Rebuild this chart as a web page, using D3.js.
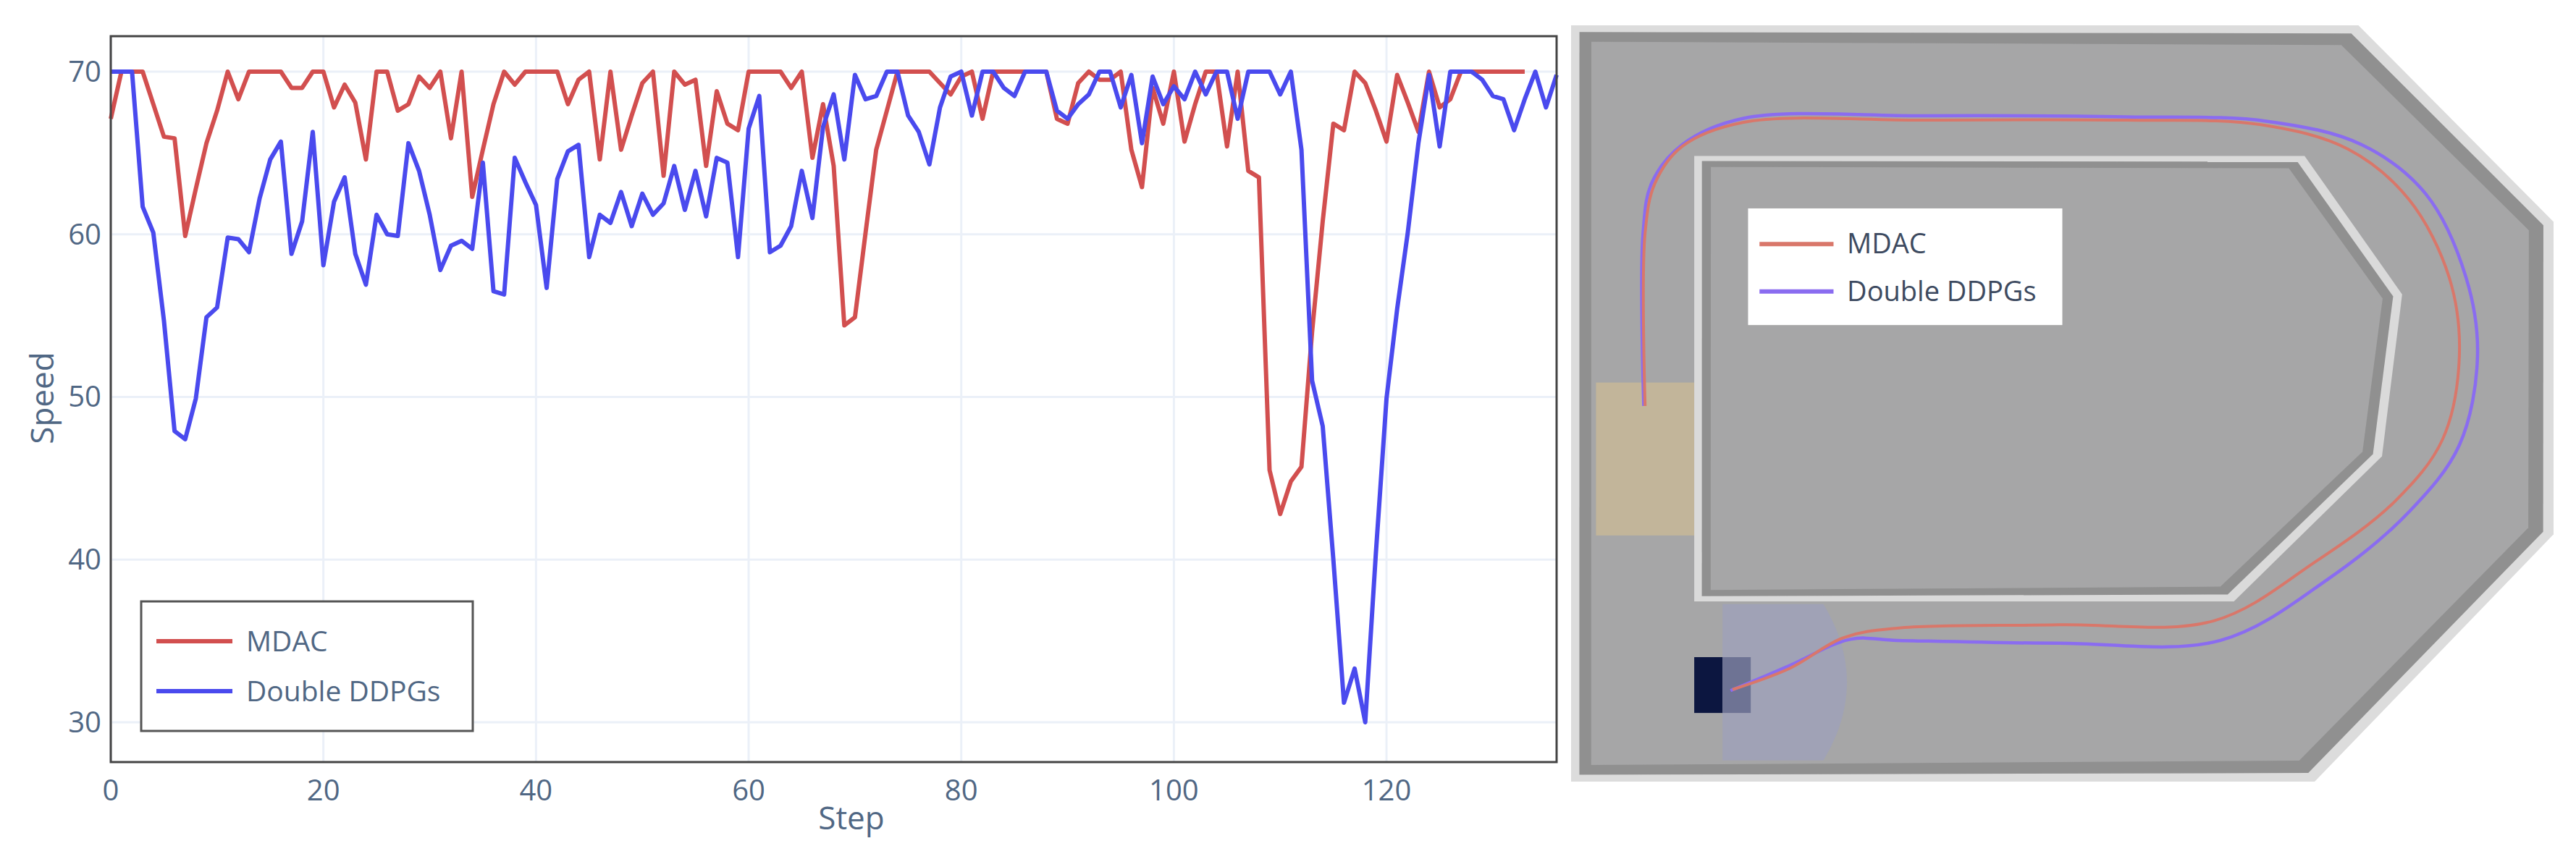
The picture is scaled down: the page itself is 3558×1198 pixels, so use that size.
<!DOCTYPE html>
<html><head><meta charset="utf-8">
<script src="https://cdn.jsdelivr.net/npm/d3@7"></script>
<style>body{margin:0;background:#fff}svg{display:block}text{font-family:"Open Sans",sans-serif}</style>
</head><body><svg id="c" width="3558" height="1198"></svg>
<script>
const seriesNames = ["MDAC", "Double DDPGs"];
const mdac = [67.1,70,70,70,68,66,65.9,59.9,62.8,65.6,67.6,70,68.3,70,70,70,70,69,69,70,70,67.8,69.2,68.1,64.6,70,70,67.6,68,69.7,69,70,65.9,70,62.3,65.2,68,70,69.2,70,70,70,70,68,69.5,70,64.6,70,65.2,67.3,69.3,70,63.6,70,69.2,69.5,64.2,68.8,66.8,66.4,70,70,70,70,69,70,64.7,68,64.2,54.4,54.9,60.1,65.2,67.6,70,70,70,70,69.3,68.6,69.7,70,67.1,70,70,70,70,70,70,67.1,66.8,69.3,70,69.5,69.5,70,65.2,62.9,69,66.8,70,65.7,68,70,70,65.4,70,63.9,63.5,45.5,42.8,44.8,45.7,54,60.8,66.8,66.4,70,69.3,67.6,65.7,69.8,68.1,66.3,70,67.8,68.3,70,70,70,70,70,70,70];
const ddpg = [70,70,70,61.7,60.1,54.7,47.9,47.4,49.9,54.9,55.5,59.8,59.7,58.9,62.2,64.6,65.7,58.8,60.8,66.3,58.1,62,63.5,58.8,56.9,61.2,60,59.9,65.6,63.9,61.2,57.8,59.3,59.6,59.1,64.4,56.5,56.3,64.7,63.2,61.8,56.7,63.4,65.1,65.5,58.6,61.2,60.7,62.6,60.5,62.5,61.2,61.9,64.2,61.5,63.9,61.1,64.7,64.4,58.6,66.5,68.5,58.9,59.3,60.5,63.9,61,66.6,68.6,64.6,69.8,68.3,68.5,70,70,67.3,66.3,64.3,67.8,69.7,70,67.3,70,70,69,68.5,70,70,70,67.6,67.1,68,68.6,70,70,67.8,69.8,65.6,69.7,68,69.1,68.3,70,68.6,70,70,67.1,70,70,70,68.6,70,65.2,51,48.2,40,31.2,33.3,30,40.4,49.9,55.4,60.1,65.6,69.8,65.4,70,70,70,69.5,68.5,68.3,66.4,68.3,70,67.8,69.8];
const yTicks = [30,40,50,60,70];
const xTicks = [0,20,40,60,80,100,120];
const colors = ["#d24f4f", "#4a4aee"];
// track drawing (in track units)
const outerPoly = [[75,48],[1245,48],[1535,400],[1535,960],[1180,1403],[75,1403]];
const islandPoly = [[258,282],[1165,282],[1310,530],[1280,820],[1060,1080],[258,1080]];
const pathMdac = [[185,730],[185,420],[200,330],[240,265],[330,222],[600,218],[900,218],[1100,226],[1230,270],[1320,360],[1380,500],[1395,640],[1370,790],[1300,900],[1180,1010],[1030,1115],[800,1122],[560,1128],[480,1145],[400,1200],[315,1238]];
const pathDdpg = [[183,730],[182,420],[195,330],[240,262],[330,215],[600,210],[900,212],[1110,220],[1250,262],[1345,350],[1405,500],[1422,640],[1395,800],[1320,920],[1200,1040],[1040,1150],[800,1155],[560,1150],[490,1148],[400,1195],[312,1240]];

const svg = d3.select("#c");
const m = {l:153, r:2150, t:50, b:1053};
const x = d3.scaleLinear().domain([0,136]).range([m.l, m.r]);
const y = d3.scaleLinear().domain([27.55,72.18]).range([m.b, m.t]);
const g = svg.append("g");
g.selectAll(".gx").data(xTicks).join("line").attr("x1",d=>x(d)).attr("x2",d=>x(d)).attr("y1",m.t).attr("y2",m.b).attr("stroke","#ebf0f8").attr("stroke-width",3);
g.selectAll(".gy").data(yTicks).join("line").attr("y1",d=>y(d)).attr("y2",d=>y(d)).attr("x1",m.l).attr("x2",m.r).attr("stroke","#ebf0f8").attr("stroke-width",3);
g.selectAll(".tx").data(xTicks).join("text").attr("x",d=>x(d)).attr("y",1106).attr("text-anchor","middle").attr("font-size",40).attr("fill","#506784").text(d=>d);
g.selectAll(".ty").data(yTicks).join("text").attr("x",140).attr("y",d=>y(d)+14).attr("text-anchor","end").attr("font-size",40).attr("fill","#506784").text(d=>d);
svg.append("text").attr("x",1176).attr("y",1146).attr("text-anchor","middle").attr("font-size",44).attr("fill","#506784").text("Step");
svg.append("text").attr("transform","translate(74,550) rotate(-90)").attr("text-anchor","middle").attr("font-size",44).attr("fill","#506784").text("Speed");
const line = d3.line().x((d,i)=>x(i)).y(d=>y(d));
[mdac, ddpg].forEach((s,k)=>{
  svg.append("path").datum(s).attr("d",line).attr("fill","none").attr("stroke",colors[k]).attr("stroke-width",6).attr("stroke-linejoin","round");
});
svg.append("rect").attr("x",m.l).attr("y",m.t).attr("width",m.r-m.l).attr("height",m.b-m.t).attr("fill","none").attr("stroke","#444").attr("stroke-width",3);
const lg = svg.append("g");
lg.append("rect").attr("x",195).attr("y",831).attr("width",458).attr("height",179).attr("fill","#fff").attr("stroke","#555").attr("stroke-width",3);
seriesNames.forEach((n,i)=>{
  const yy = 886 + i*69;
  lg.append("line").attr("x1",216).attr("x2",321).attr("y1",yy).attr("y2",yy).attr("stroke",colors[i]).attr("stroke-width",6);
  lg.append("text").attr("x",340).attr("y",yy+14).attr("font-size",39).attr("fill","#506784").text(n);
});

// right panel: track
const tx = d3.scaleLinear().domain([75,1535]).range([2170,3527]);
const ty = d3.scaleLinear().domain([48,1403]).range([35,1080]);
const toPts = p => p.map(d=>[tx(d[0]),ty(d[1])]);
function inset(poly, k){
  const c = d3.polygonCentroid(poly);
  return poly.map(p=>{const dx=c[0]-p[0], dy=c[1]-p[1]; const L=Math.hypot(dx,dy); return [p[0]+dx/L*k*Math.SQRT2*0.75,p[1]+dy/L*k*Math.SQRT2*0.75];});
}
const T = svg.append("g");
const op = toPts(outerPoly);
T.append("polygon").attr("points",op.join(" ")).attr("fill","#dcdcdc");
T.append("polygon").attr("points",inset(op,14).join(" ")).attr("fill","#909090");
T.append("polygon").attr("points",inset(op,34).join(" ")).attr("fill","#a6a6a7");
T.append("rect").attr("x",tx(112)).attr("y",ty(688)).attr("width",tx(258)-tx(112)).attr("height",ty(962)-ty(688)).attr("fill","#c2b59a");
T.append("path").attr("d",`M${tx(300)},${ty(1085)} L${tx(450)},${ty(1085)} Q${tx(520)},${ty(1225)} ${tx(450)},${ty(1365)} L${tx(300)},${ty(1365)} Z`).attr("fill","#a0a2b6");
T.append("rect").attr("x",tx(258)).attr("y",ty(1180)).attr("width",tx(300)-tx(258)).attr("height",ty(1280)-ty(1180)).attr("fill","#0c1640");
T.append("rect").attr("x",tx(300)).attr("y",ty(1180)).attr("width",tx(342)-tx(300)).attr("height",ty(1280)-ty(1180)).attr("fill","#6e7394");
const ip = toPts(islandPoly);
T.append("polygon").attr("points",ip.join(" ")).attr("fill","#dadada");
T.append("polygon").attr("points",inset(ip,12).join(" ")).attr("fill","#909090");
T.append("polygon").attr("points",inset(ip,26).join(" ")).attr("fill","#a6a6a7");
const cl = d3.line().curve(d3.curveCatmullRom);
T.append("path").attr("d",cl(toPts(pathDdpg))).attr("fill","none").attr("stroke","#8a6cf0").attr("stroke-width",4.5);
T.append("path").attr("d",cl(toPts(pathMdac))).attr("fill","none").attr("stroke","#d9776a").attr("stroke-width",4);
const L2 = svg.append("g");
L2.append("rect").attr("x",tx(338)).attr("y",ty(376)).attr("width",tx(805)-tx(338)).attr("height",ty(585)-ty(376)).attr("fill","#fff");
const tc = ["#d9776a","#8a6cf0"];
seriesNames.forEach((n,i)=>{
  const yy = ty(440 + i*85);
  L2.append("line").attr("x1",tx(355)).attr("x2",tx(465)).attr("y1",yy).attr("y2",yy).attr("stroke",tc[i]).attr("stroke-width",6);
  L2.append("text").attr("x",tx(485)).attr("y",yy+13).attr("font-size",38).attr("fill","#3d4a60").text(n);
});
</script></body></html>
